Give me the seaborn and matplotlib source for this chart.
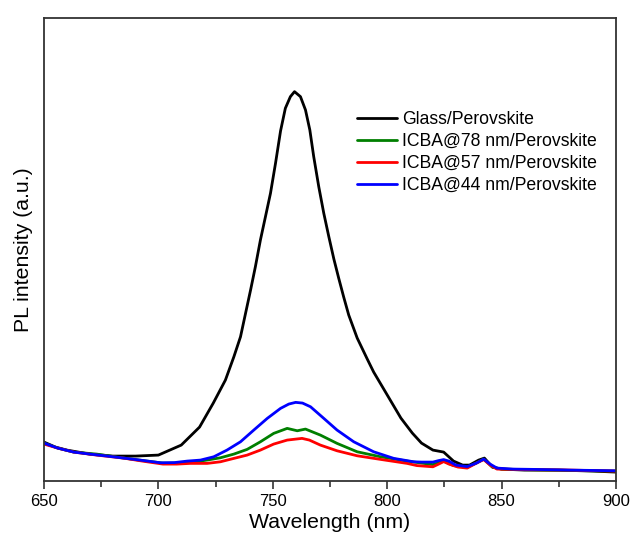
import pandas as pd
import matplotlib.pyplot as plt
import seaborn as sns

# PL spectra (intensity in arbitrary units)
glass_nm = [650, 655, 660, 670, 680, 690, 700, 705, 710, 718, 724, 729.3, 733, 735.9, 738.1,
            740.3, 742.4, 744.6, 746.8, 749, 751.2, 753.4, 755.5, 757.7, 759.5, 762.1, 764.3,
            766.2, 767.9, 770.1, 772.3, 774.5, 776.7, 778.8, 781, 783.2, 786.9, 791.3, 794.1,
            798.5, 806, 811, 815, 820, 824.7, 829, 833, 836, 840, 842.5, 846, 850, 860, 875,
            890, 900]
glass_pl = [39, 34, 31, 27, 25, 25, 26, 31, 36, 54, 78, 101, 124.3, 144.3, 167.7,
            191, 214.3, 241, 264.3, 287.7, 317.7, 350, 372.7, 384.3, 389.3, 384.3, 371,
            351, 324.3, 294.3, 267.7, 244.3, 222, 203, 184, 166, 143, 122, 109,
            92, 63, 48, 38, 31, 29, 20, 16, 16, 21, 23, 14, 12, 11, 11,
            10, 9]

icba78_nm = [650, 656, 663, 673, 685, 695, 702, 709.7, 715, 721.3, 727.1, 733, 738.8, 744.6,
             750.4, 756.3, 760.7, 764.3, 770.8, 778.1, 786.9, 797.1, 808.7, 815, 820, 824.7,
             829, 835, 839, 842.2, 846, 850, 870, 900]
icba78_pl = [38, 33, 29, 27, 23, 20, 18, 18, 19, 21, 23.3, 27, 31.7, 39.3,
             47.7, 52.7, 50.3, 52, 46, 37.7, 29.3, 24.3, 20, 18, 16.5, 20,
             15.5, 14, 18, 22, 14, 12, 11, 10]

icba57_nm = [650, 656, 663, 673, 684.7, 693, 702, 708, 714, 721.3, 727.1, 733, 738.8, 744.6,
             750.4, 756.3, 762.8, 766, 770.8, 778.1, 786.9, 797.1, 808.7, 813, 820, 822.5,
             824.7, 827, 831, 835, 839, 842.2, 845, 848, 860, 880, 900]
icba57_pl = [37, 33, 29, 26, 23, 20, 17, 17, 17.7, 17.7, 19.3, 22.7, 26, 31,
             37, 41, 42.7, 41, 36, 30.3, 25.3, 21.7, 17.7, 15.5, 14.3, 17,
             19.5, 17, 14, 13, 18, 21.5, 16, 12, 11.5, 11, 10]

icba44_nm = [650, 656, 663, 670, 677.6, 685, 692, 701, 707, 712.6, 718.4, 724.2, 730, 735.9,
             741.7, 747.6, 753.4, 757, 760, 763, 766.5, 772.3, 778.1, 785.4, 794.1, 802.9,
             811.6, 815, 820, 822.5, 824.7, 827, 830, 835, 839, 842.2, 845, 848, 855, 864,
             880, 900]
icba44_pl = [38, 33, 29, 27, 25, 23, 21, 18.3, 18.5, 20, 21, 24.3, 31, 39.3,
             51, 62.7, 72.7, 77, 78.7, 78, 74.3, 62.7, 51, 39.3, 29.3, 22.7,
             19.3, 19, 19, 20.5, 21.5, 20, 16, 14.5, 18, 22, 17, 13, 12, 11.7,
             11, 10.3]

labels = ["Glass/Perovskite", "ICBA@78 nm/Perovskite", "ICBA@57 nm/Perovskite", "ICBA@44 nm/Perovskite"]
colors = ["#000000", "#007f00", "#ff0000", "#0000ff"]

frames = []
for name, x, y in zip(labels,
                      [glass_nm, icba78_nm, icba57_nm, icba44_nm],
                      [glass_pl, icba78_pl, icba57_pl, icba44_pl]):
    frames.append(pd.DataFrame({"wavelength": x, "pl": y, "sample": name}))
df = pd.concat(frames, ignore_index=True)

sns.set_theme(style="ticks")
plt.rcParams["font.family"] = ["Liberation Sans", "DejaVu Sans"]
plt.rcParams["text.color"] = "black"
plt.rcParams["axes.labelcolor"] = "black"

fig = plt.figure(figsize=(6.32, 5.43), dpi=100)
ax = fig.add_axes([0.0696, 0.114, 0.905, 0.853])

sns.lineplot(data=df, x="wavelength", y="pl", hue="sample", hue_order=labels,
             palette=colors, estimator=None, sort=True, linewidth=2, ax=ax)

ax.set_xlim(650, 900)
ax.set_ylim(0, 463)
ax.set_xticks([650, 700, 750, 800, 850, 900])
ax.set_xticks([675, 725, 775, 825, 875], minor=True)
ax.set_yticks([])
ax.tick_params(axis="x", which="major", direction="out", length=6, width=1.2,
               labelsize=12, colors="#333333", labelcolor="black")
ax.tick_params(axis="x", which="minor", direction="out", length=4, width=1.2, colors="#333333")
for s in ax.spines.values():
    s.set_color("#333333")
    s.set_linewidth(1.3)

ax.set_xlabel("Wavelength (nm)", fontsize=15.3, labelpad=3)
ax.set_ylabel("PL intensity (a.u.)", fontsize=15.3, labelpad=8)

ax.legend(loc="upper left", bbox_to_anchor=(0.535, 0.814), frameon=False, fontsize=12.7,
          handlelength=2.25, handletextpad=0.3, labelspacing=0.28, borderaxespad=0,
          labelcolor="black")

fig.savefig("out.png", dpi=100)
